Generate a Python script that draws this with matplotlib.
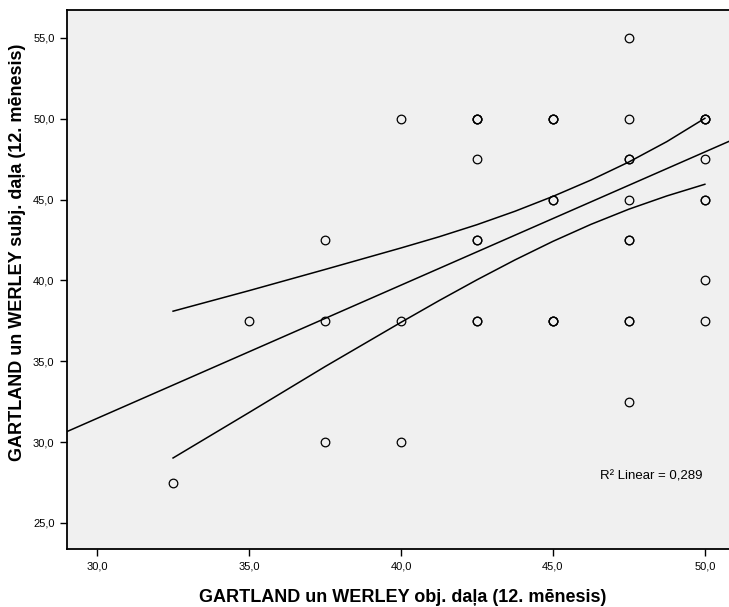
# Scatter with linear fit and mean confidence band
import numpy as np
import matplotlib.pyplot as plt

plt.rcParams['font.family'] = ['Liberation Sans', 'DejaVu Sans']

# observed points (x, y) and how many cases sit on each spot
obj_score = [32.5, 35.0, 37.5, 37.5, 37.5, 40.0, 40.0, 40.0,
             42.5, 42.5, 42.5, 42.5, 45.0, 45.0, 45.0,
             47.5, 47.5, 47.5, 47.5, 47.5, 47.5, 47.5,
             50.0, 50.0, 50.0, 50.0, 50.0]
subj_score = [27.5, 37.5, 42.5, 37.5, 30.0, 50.0, 37.5, 30.0,
              50.0, 47.5, 42.5, 37.5, 50.0, 45.0, 37.5,
              55.0, 50.0, 47.5, 45.0, 42.5, 37.5, 32.5,
              50.0, 47.5, 45.0, 40.0, 37.5]
case_count = [1, 1, 1, 1, 1, 1, 1, 1,
              3, 1, 2, 2, 3, 2, 3,
              1, 1, 2, 1, 2, 2, 1,
              3, 1, 2, 1, 1]

# fit line
fit_intercept = 6.75
fit_slope = 0.824
r2_text = "R² Linear = 0,289"

# 95% band of the mean
band_x = [32.5, 35.0, 37.5, 40.0, 41.25, 42.5, 43.75, 45.0, 46.25, 47.5, 48.75, 50.0]
band_upper = [38.10, 39.37, 40.68, 42.01, 42.70, 43.45, 44.28, 45.20, 46.21, 47.33, 48.59, 50.03]
band_lower = [29.02, 31.83, 34.67, 37.41, 38.75, 40.04, 41.27, 42.42, 43.47, 44.41, 45.23, 45.95]

x_ticks = [30, 35, 40, 45, 50]
x_tick_labels = ["30,0", "35,0", "40,0", "45,0", "50,0"]
y_ticks = [25, 30, 35, 40, 45, 50, 55]
y_tick_labels = ["25,0", "30,0", "35,0", "40,0", "45,0", "50,0", "55,0"]

fig = plt.figure(figsize=(7.29, 6.07), dpi=100)
ax = fig.add_axes([67 / 729, 58 / 607, 664 / 729, 539 / 607])
ax.set_facecolor("#f0f0f0")

# duplicates drawn on top of each other, so they come out darker
for x, y, n in zip(obj_score, subj_score, case_count):
    for k in range(n):
        ax.plot(x, y, "o", markersize=6.2, markerfacecolor="none",
                markeredgecolor="black", markeredgewidth=0.9, zorder=3)

ax.axline((0, fit_intercept), slope=fit_slope, color="black", linewidth=1.1)
ax.plot(band_x, band_upper, color="black", linewidth=1.1)
ax.plot(band_x, band_lower, color="black", linewidth=1.1)

ax.text(46.55, 27.87, r2_text, fontsize=9.5, va="center", ha="left")

ax.set_xlim(29.01, 50.86)
ax.set_ylim(23.39, 56.73)
ax.set_xticks(x_ticks)
ax.set_xticklabels(x_tick_labels)
ax.set_yticks(y_ticks)
ax.set_yticklabels(y_tick_labels)
ax.tick_params(direction="out", length=5, width=1, labelsize=8, pad=4)

for side in ["left", "bottom", "top", "right"]:
    ax.spines[side].set_linewidth(1.3)

ax.set_xlabel("GARTLAND un WERLEY obj. daļa (12. mēnesis)", fontsize=13, fontweight="bold")
ax.set_ylabel("GARTLAND un WERLEY subj. daļa (12. mēnesis)", fontsize=13, fontweight="bold")
ax.xaxis.set_label_coords(0.505, -0.075)
ax.yaxis.set_label_coords(-0.061, 0.55)

plt.savefig("out.png", dpi=100)
